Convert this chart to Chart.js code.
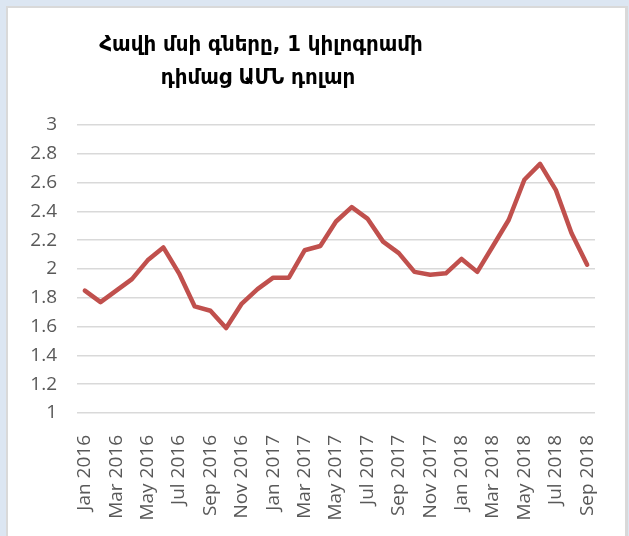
<!DOCTYPE html>
<html>
<head>
<meta charset="utf-8">
<script src="https://cdn.jsdelivr.net/npm/chart.js@4"></script>
<style>
  html, body { margin: 0; padding: 0; }
  body { width: 629px; height: 536px; background: #dce6f2; position: relative; overflow: hidden; }
  #panel { position: absolute; left: 6px; top: 6px; width: 617px; height: 600px; background: #fff; border: 2px solid #d9d9d9; border-right-width: 3px; }
  #wrap { position: absolute; left: 0; top: 0; width: 629px; height: 536px; }
</style>
</head>
<body>
<div id="panel"></div>
<div id="wrap"><canvas id="chart"></canvas></div>
<script>
// monthly chicken meat price, USD per kg
const months = [
  "Jan 2016", "Feb 2016", "Mar 2016", "Apr 2016", "May 2016", "Jun 2016",
  "Jul 2016", "Aug 2016", "Sep 2016", "Oct 2016", "Nov 2016", "Dec 2016",
  "Jan 2017", "Feb 2017", "Mar 2017", "Apr 2017", "May 2017", "Jun 2017",
  "Jul 2017", "Aug 2017", "Sep 2017", "Oct 2017", "Nov 2017", "Dec 2017",
  "Jan 2018", "Feb 2018", "Mar 2018", "Apr 2018", "May 2018", "Jun 2018",
  "Jul 2018", "Aug 2018", "Sep 2018"
];
const prices = [
  1.85, 1.77, 1.85, 1.93, 2.06, 2.15, 1.97, 1.74, 1.71, 1.59, 1.76, 1.86,
  1.94, 1.94, 2.13, 2.16, 2.33, 2.43, 2.35, 2.19, 2.11, 1.98, 1.96, 1.97,
  2.07, 1.98, 2.16, 2.34, 2.62, 2.73, 2.55, 2.25, 2.03
];
const titleLines = ["Հավի մսի գները, 1 կիլոգրամի", "դիմաց ԱՄՆ դոլար"];

const labelFont = { family: "'Open Sans', 'DejaVu Sans', sans-serif", size: 19 };

// the title in the original sits left of the canvas centre, so draw it here
const offsetTitle = {
  id: "offsetTitle",
  afterDraw(chart) {
    const ctx = chart.ctx;
    ctx.save();
    ctx.fillStyle = "#000";
    ctx.font = "bold 22px 'DejaVu Sans Condensed', 'DejaVu Sans', sans-serif";
    ctx.textAlign = "center";
    ctx.textBaseline = "middle";
    ctx.fillText(titleLines[0], 261, 45);
    ctx.fillText(titleLines[1], 258, 78);
    ctx.restore();
  }
};

new Chart(document.getElementById("chart"), {
  type: "line",
  data: {
    labels: months,
    datasets: [{
      data: prices,
      borderColor: "#c0504d",
      borderWidth: 4.5,
      pointRadius: 0,
      tension: 0,
      borderCapStyle: "round",
      borderJoinStyle: "round"
    }]
  },
  options: {
    responsive: true,
    maintainAspectRatio: false,
    animation: false,
    layout: { padding: { left: 29, right: 34, top: 125, bottom: 0 } },
    plugins: {
      legend: { display: false },
      tooltip: { enabled: false },
      title: { display: false }
    },
    scales: {
      x: {
        offset: true,
        grid: { display: false },
        border: { display: false },
        afterFit: (s) => { s.height = 123; },
        ticks: {
          autoSkip: false,
          maxRotation: 90,
          minRotation: 90,
          padding: 14,
          color: "#595959",
          font: labelFont,
          callback: function (val, i) { return i % 2 === 0 ? this.getLabelForValue(val) : ""; }
        }
      },
      y: {
        min: 1,
        max: 3,
        afterFit: (s) => { s.width = 48; },
        grid: { color: "#d9d9d9", lineWidth: 1.5, drawTicks: false },
        border: { display: false },
        ticks: {
          stepSize: 0.2,
          padding: 20,
          color: "#595959",
          font: labelFont,
          callback: (v) => String(+v.toFixed(1))
        }
      }
    }
  },
  plugins: [offsetTitle]
});
</script>
</body>
</html>
